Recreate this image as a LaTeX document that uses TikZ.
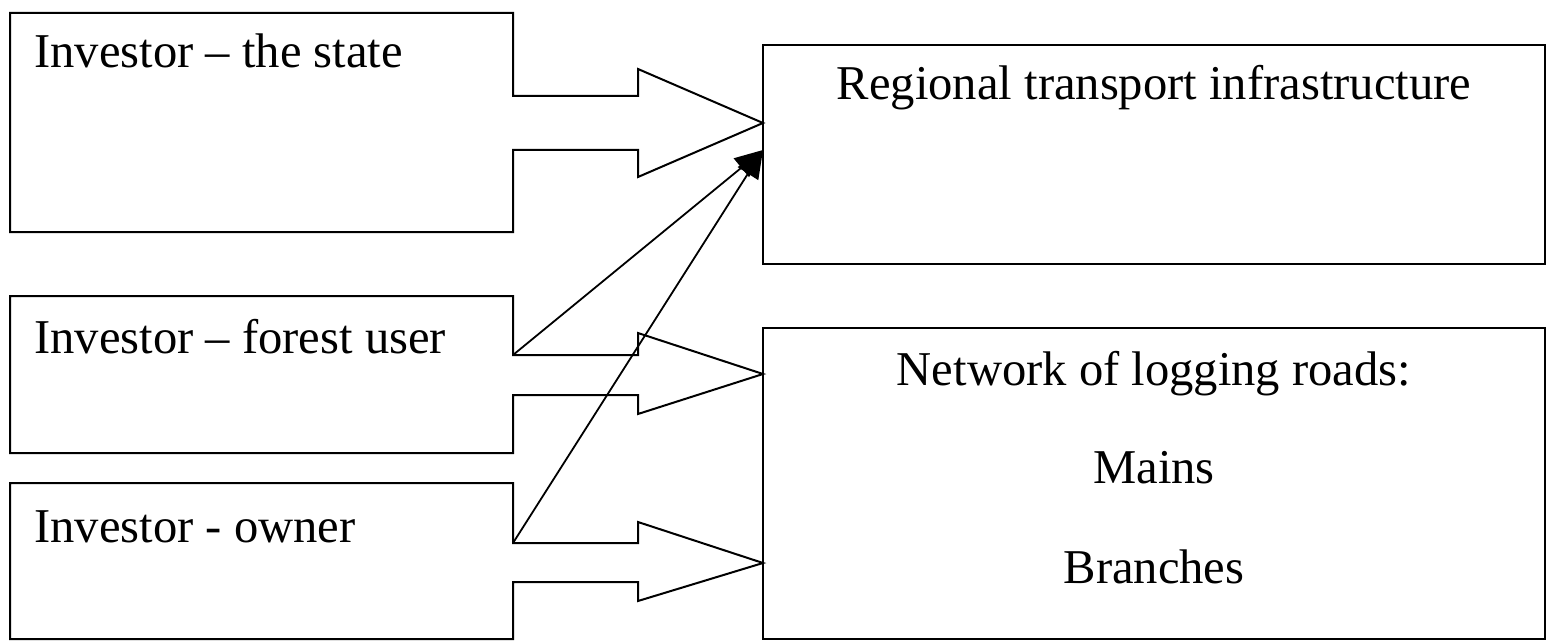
\documentclass[tikz,border=0pt]{standalone}
\usepackage{fontspec}
\setmainfont{Liberation Serif}
\usetikzlibrary{arrows.meta}
\tikzset{
  outline/.style={draw=black, line width=1pt, line join=miter},
  label/.style={inner sep=0pt, font=\fontsize{24.3}{29}\selectfont},
  link/.style={draw=black, line width=0.9pt, -{Triangle[length=14pt,width=12pt]}}
}
\begin{document}
\begin{tikzpicture}[x=0.5pt,y=-0.5pt]
\useasboundingbox (0,0) rectangle (1548,642);
% left boxes with block arrows
\draw[outline] (10,13) -- (513,13) -- (513,96) -- (638,96) -- (638,69) -- (763,123) -- (638,177) -- (638,150) -- (513,150) -- (513,232) -- (10,232) -- cycle;
\draw[outline] (10,296) -- (513,296) -- (513,355) -- (638,355) -- (638,333) -- (763,374) -- (638,414) -- (638,395) -- (513,395) -- (513,453) -- (10,453) -- cycle;
\draw[outline] (10,483) -- (513,483) -- (513,543) -- (638,543) -- (638,522) -- (763,563) -- (638,601) -- (638,582) -- (513,582) -- (513,639) -- (10,639) -- cycle;
\node[label, anchor=base west] (state) at (34,68) {Investor – the state};
\node[label, anchor=base west] (forest) at (34,353) {Investor – forest user};
\node[label, anchor=base west] (owner) at (34,542) {Investor - owner};
% right boxes
\path (763,45) coordinate (a1) (1545,264) coordinate (a2);
\path (763,328) coordinate (b1) (1545,639) coordinate (b2);
\draw[outline] (a1) rectangle (a2);
\draw[outline] (b1) rectangle (b2);
\node[label, anchor=base] (regional) at (1154,100) {Regional transport infrastructure};
\node[label, anchor=base] (network) at (1154,385) {Network of logging roads:};
\node[label, anchor=base] (mains) at (1154,483) {Mains};
\node[label, anchor=base] (branches) at (1154,583) {Branches};
% connectors
\coordinate (f2) at (513,355);
\coordinate (f3) at (513,543);
\coordinate (tipA) at (763,150);
\draw[link] (f2) -- (tipA);
\draw[link] (f3) -- (tipA);
\end{tikzpicture}
\end{document}
